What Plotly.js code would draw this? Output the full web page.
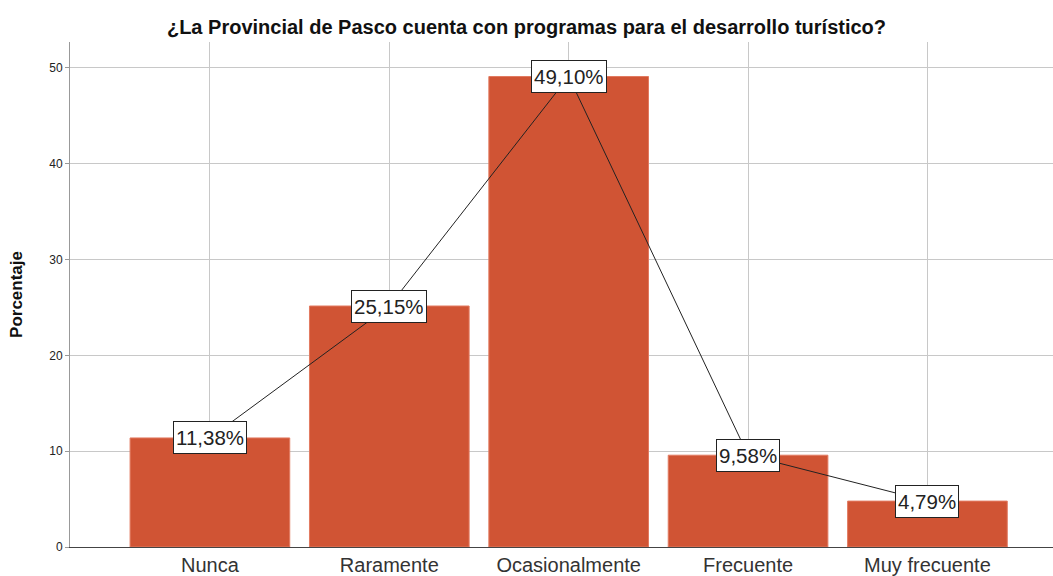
<!DOCTYPE html>
<html><head><meta charset="utf-8">
<script src="https://cdn.plot.ly/plotly-3.0.1.min.js"></script>
<style>html,body{margin:0;padding:0;background:#fff}#chart{width:1053px;height:576px}</style>
</head><body><div id="chart"></div>
<script>
const categories = ["Nunca", "Raramente", "Ocasionalmente", "Frecuente", "Muy frecuente"];
const percentages = [11.38, 25.15, 49.10, 9.58, 4.79];
const labels = ["11,38%", "25,15%", "49,10%", "9,58%", "4,79%"];
const yTicks = [0, 10, 20, 30, 40, 50];

const bars = {
  type: 'bar', x: categories, y: percentages, width: 0.89,
  marker: {color: '#d05434', line: {color: '#e27a60', width: 1}},
  hoverinfo: 'skip'
};
const line = {
  type: 'scatter', mode: 'lines', x: categories, y: percentages,
  line: {color: '#222222', width: 1}, hoverinfo: 'skip'
};
const annotations = categories.map((c, i) => ({
  x: c, y: percentages[i], xref: 'x', yref: 'y', text: labels[i], showarrow: false,
  bgcolor: '#ffffff', bordercolor: '#222222', borderwidth: 1, borderpad: 2, height: 27,
  font: {family: 'Liberation Sans, Arial, sans-serif', size: 20.5, color: '#222'}
}));

Plotly.newPlot('chart', [bars, line], {
  width: 1053, height: 576,
  margin: {l: 70, r: 0, t: 42, b: 29},
  paper_bgcolor: '#fff', plot_bgcolor: '#fff',
  showlegend: false,
  title: {text: '<b>¿La Provincial de Pasco cuenta con programas para el desarrollo turístico?</b>',
    x: 0.5, xanchor: 'center', y: 0.953, yanchor: 'middle',
    font: {family: 'Liberation Sans, Arial, sans-serif', size: 20, color: '#111'}},
  xaxis: {
    type: 'category', range: [-0.78, 4.7],
    showgrid: true, gridcolor: '#c8c8c8', gridwidth: 1,
    showline: true, linecolor: '#444', linewidth: 1,
    ticks: '',
    tickfont: {family: 'Liberation Sans, Arial, sans-serif', size: 20, color: '#333'},
    zeroline: false, fixedrange: true
  },
  yaxis: {
    range: [0, 52.7], tickvals: yTicks, ticktext: yTicks.map(String),
    showgrid: true, gridcolor: '#c8c8c8', gridwidth: 1,
    showline: true, linecolor: '#999', linewidth: 1,
    ticks: 'outside', ticklen: 4, tickcolor: '#999',
    tickfont: {family: 'Liberation Sans, Arial, sans-serif', size: 12, color: '#222'},
    zeroline: false,
    title: {text: '<b>Porcentaje</b>', standoff: 22,
      font: {family: 'Liberation Sans, Arial, sans-serif', size: 17, color: '#111'}}
  },
  annotations: annotations
}, {staticPlot: true});
</script></body></html>
